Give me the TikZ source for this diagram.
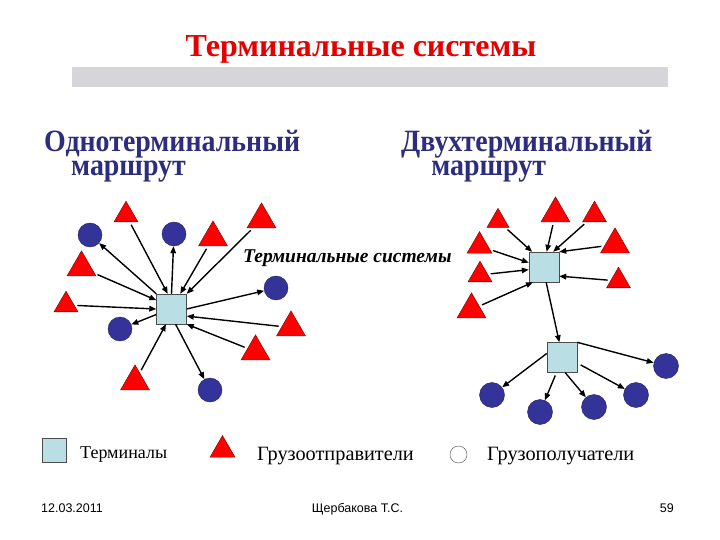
\documentclass[tikz,border=0pt]{standalone}
\usepackage{fontspec}
\setmainfont{Liberation Serif}
\newfontfamily\footfont{Liberation Sans}
\usetikzlibrary{arrows.meta,shapes.geometric}
\definecolor{navy}{RGB}{45,45,125}
\definecolor{dotblue}{RGB}{51,51,153}
\definecolor{termcyan}{RGB}{185,222,228}
\definecolor{bargray}{RGB}{214,214,218}
\newcommand{\headtext}[2]{\scalebox{0.9}[1]{\begin{tabular}[t]{@{}l@{}}#1\\\hspace*{#2}маршрут\end{tabular}}}
\tikzset{
  >={Triangle[length=7pt,width=5.5pt]},
  term/.style={draw=black!70,fill=termcyan,minimum size=#1,inner sep=0pt},
  term/.default=30pt,
  sender/.style={regular polygon,regular polygon sides=3,draw=red!45!black,fill=red,
    minimum size=#1,inner sep=0pt},
  sender/.default=33.5pt,
  receiver/.style={circle,draw=dotblue!60!black,fill=dotblue,minimum size=#1,inner sep=0pt},
  receiver/.default=24pt,
  flow/.style={->,line width=1.4pt,shorten <=#1},
  flow/.default=0pt,
  heading/.style={anchor=base west,text=navy,inner sep=0pt,
    font=\fontsize{31}{24}\selectfont\bfseries},
  legend/.style={anchor=base west,inner sep=0pt,font=\fontsize{#1}{22}\selectfont},
  legend/.default=20.3,
  foot/.style={inner sep=0pt,font=\footfont\fontsize{12.5}{14}\selectfont},
}
\begin{document}
\begin{tikzpicture}[x=1pt,y=-1pt]
  \useasboundingbox (0,0) rectangle (720,540);
  % title and grey bar
  \node[anchor=base,text=red!90!black,inner sep=0pt,font=\fontsize{32}{34}\selectfont\bfseries]
    (title) at (361,57) {Терминальные системы};
  \fill[bargray] (72,67) rectangle (668,87);
  \node[heading] (h1) at (44,152) {\headtext{Однотерминальный}{30pt}};
  \node[heading] (h2) at (401,152) {\headtext{Двухтерминальный}{33.5pt}};
  \node[anchor=base west,inner sep=0pt,font=\fontsize{19.5}{21}\selectfont\bfseries\itshape]
    (sys) at (243,262) {Терминальные системы};

  % one terminal
  \node[term] (L) at (171.5,309) {};
  \node[receiver] (c1) at (90,235) {};
  \node[receiver] (c2) at (174,234) {};
  \node[receiver] (c3) at (276,288) {};
  \node[receiver] (c4) at (120,329) {};
  \node[receiver] (c5) at (210,390) {};
  \node[sender=27.7pt] (t1) at (126,215) {};
  \node[sender] (t2) at (213,237.6) {};
  \node[sender] (t3) at (261.5,219.6) {};
  \node[sender] (t4) at (81.5,267.6) {};
  \node[sender=27.7pt] (t5) at (66,305) {};
  \node[sender] (t6) at (291,327.6) {};
  \node[sender] (t7) at (255.5,351.6) {};
  \node[sender] (t8) at (135,381.6) {};
  \draw[flow] (L.north west) -- (c1);
  \draw[flow=3pt] (t1) -- (L.104);
  \draw[flow] (L.north) -- (c2);
  \draw[flow=3pt] (t2) -- (L.60);
  \draw[flow=3pt] (t3) -- (L.north east);
  \draw[flow=3pt] (t4) -- (L.150);
  \draw[flow=3pt] (t5) -- (L.west);
  \draw[flow] (L.east) -- (c3);
  \draw[flow=3pt] (t6) -- (L.-25);
  \draw[flow=3pt] (t7) -- (L.south east);
  \draw[flow] (L.200) -- (c4);
  \draw[flow=3pt] (t8) -- (L.-110);
  \draw[flow] (L.-75) -- (c5);

  % two terminals
  \node[term] (A) at (544,267) {};
  \node[term] (B) at (562,357.5) {};
  \node[sender=25.4pt] (r1) at (498,221) {};
  \node[sender] (r2) at (555.5,213.6) {};
  \node[sender=27.7pt] (r3) at (594.5,215) {};
  \node[sender=28.8pt] (r4) at (479.5,246) {};
  \node[sender] (r5) at (615,244.6) {};
  \node[sender=27.7pt] (r6) at (480,275) {};
  \node[sender=27.7pt] (r7) at (618.5,281) {};
  \node[sender] (r8) at (471.5,309.6) {};
  \node[receiver=25pt] (d1) at (492,395) {};
  \node[receiver=25pt] (d2) at (540,412) {};
  \node[receiver=25pt] (d3) at (594,407) {};
  \node[receiver=25pt] (d4) at (636,395) {};
  \node[receiver=25pt] (d5) at (666,366) {};
  \draw[flow=3pt] (r1) -- (A.128);
  \draw[flow=3pt] (r2) -- (A.80);
  \draw[flow=3pt] (r3) -- (A.59);
  \draw[flow=3pt] (r4) -- (A.164);
  \draw[flow=3pt] (r5) -- (A.north east);
  \draw[flow=3pt] (r6) -- (A.190);
  \draw[flow=3pt] (r7) -- (A.-31);
  \draw[flow=3pt] (r8) -- (A.234);
  \draw[flow] (A.-82) -- (B.100);
  \draw[flow] (B.165) -- (d1);
  \draw[flow=3pt] (B.-110) -- (d2);
  \draw[flow] (B.-78) -- (d3);
  \draw[flow=4pt] (B.-20) -- (d4);
  \draw[flow] (B.north east) -- (d5);

  % legend
  \node[term=24pt] (k1) at (54.5,450) {};
  \node[legend=18] (k1t) at (80,458) {Терминалы};
  \node[sender=28.9pt] (k2) at (222.5,450) {};
  \node[legend] (k2t) at (257,460) {Грузоотправители};
  \node[circle,draw=black!70,fill=white,minimum size=17pt,inner sep=0pt] (k3) at (458.5,454.5) {};
  \node[legend] (k3t) at (487,460) {Грузополучатели};

  % footer
  \node[foot,anchor=base west] (date) at (41,512) {12.03.2011};
  \node[foot,anchor=base] (auth) at (357.5,512) {Щербакова Т.С.};
  \node[foot,anchor=base east] (page) at (674,512) {59};
\end{tikzpicture}
\end{document}
